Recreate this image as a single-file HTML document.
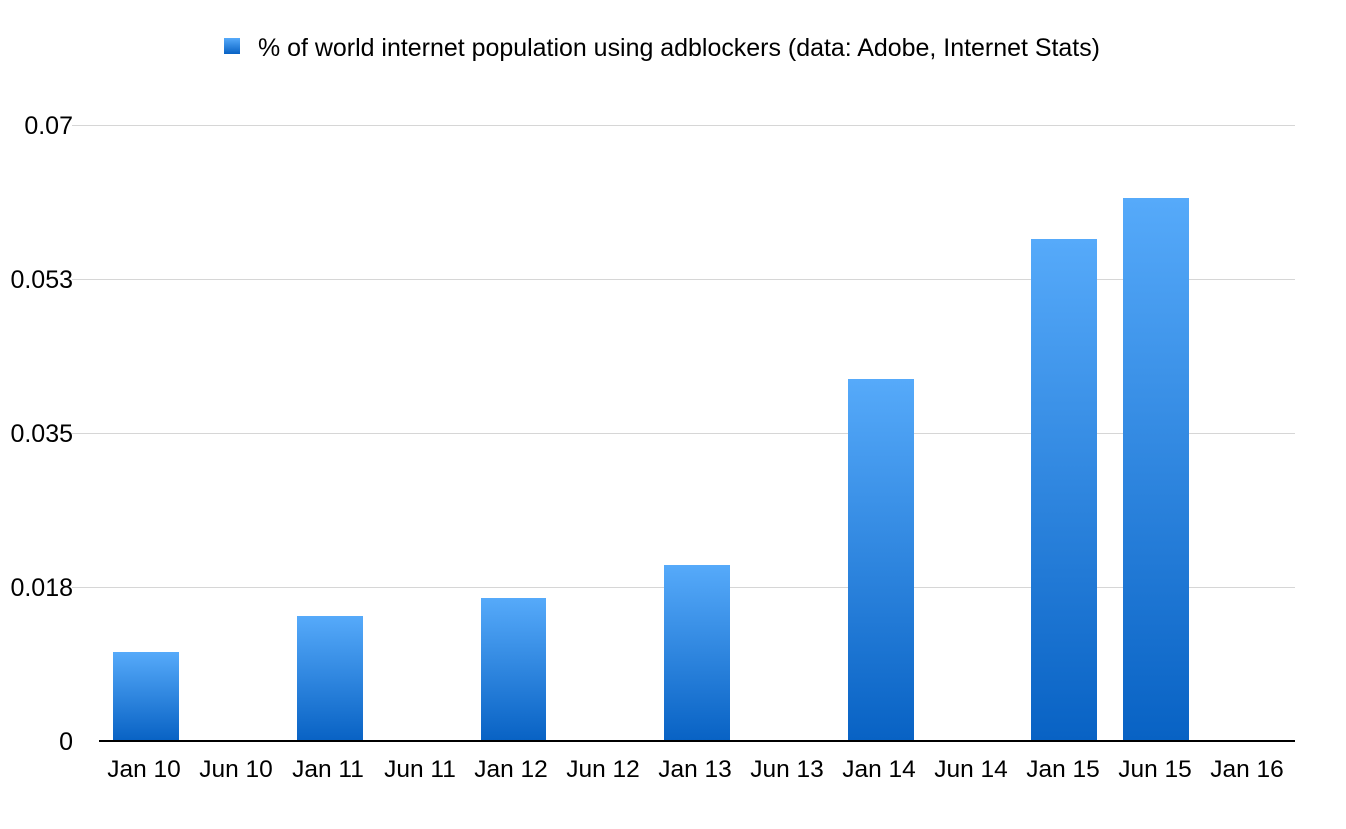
<!DOCTYPE html>
<html><head><style>body{margin:0;background:#fff}</style></head><body>
<svg width="1346" height="824" xmlns="http://www.w3.org/2000/svg" font-family="Liberation Sans, Arial, sans-serif">
<defs><linearGradient id="g" x1="0" y1="0" x2="0" y2="1"><stop offset="0" stop-color="#56aafa"/><stop offset="1" stop-color="#0862c4"/></linearGradient></defs>
<rect width="1346" height="824" fill="#fff"/>
<rect x="224" y="38" width="16" height="16" fill="url(#g)"/>
<text x="258" y="56" font-size="25" textLength="842" lengthAdjust="spacingAndGlyphs" fill="#000">% of world internet population using adblockers (data: Adobe, Internet Stats)</text>
<g stroke="#d6d6d6" stroke-width="1">
<line x1="72" y1="125.5" x2="1295" y2="125.5"/>
<line x1="72" y1="279.5" x2="1295" y2="279.5"/>
<line x1="72" y1="433.5" x2="1295" y2="433.5"/>
<line x1="72" y1="587.5" x2="1295" y2="587.5"/>
</g>
<g font-size="25" text-anchor="end" fill="#000">
<text x="73" y="134">0.07</text>
<text x="73" y="288">0.053</text>
<text x="73" y="442">0.035</text>
<text x="73" y="596">0.018</text>
<text x="73" y="750">0</text>
</g>
<g fill="url(#g)">
<rect x="113" y="652" width="66" height="89"/>
<rect x="297" y="616" width="66" height="125"/>
<rect x="481" y="598" width="65" height="143"/>
<rect x="664" y="565" width="66" height="176"/>
<rect x="848" y="379" width="66" height="362"/>
<rect x="1031" y="239" width="66" height="502"/>
<rect x="1123" y="198" width="66" height="543"/>
</g>
<line x1="99" y1="741" x2="1295" y2="741" stroke="#000" stroke-width="2"/>
<g font-size="24.5" text-anchor="middle" fill="#000">
<text x="144" y="777">Jan 10</text>
<text x="236" y="777">Jun 10</text>
<text x="328" y="777">Jan 11</text>
<text x="420" y="777">Jun 11</text>
<text x="511" y="777">Jan 12</text>
<text x="603" y="777">Jun 12</text>
<text x="695" y="777">Jan 13</text>
<text x="787" y="777">Jun 13</text>
<text x="879" y="777">Jan 14</text>
<text x="971" y="777">Jun 14</text>
<text x="1063" y="777">Jan 15</text>
<text x="1155" y="777">Jun 15</text>
<text x="1247" y="777">Jan 16</text>
</g>
</svg>
</body></html>
